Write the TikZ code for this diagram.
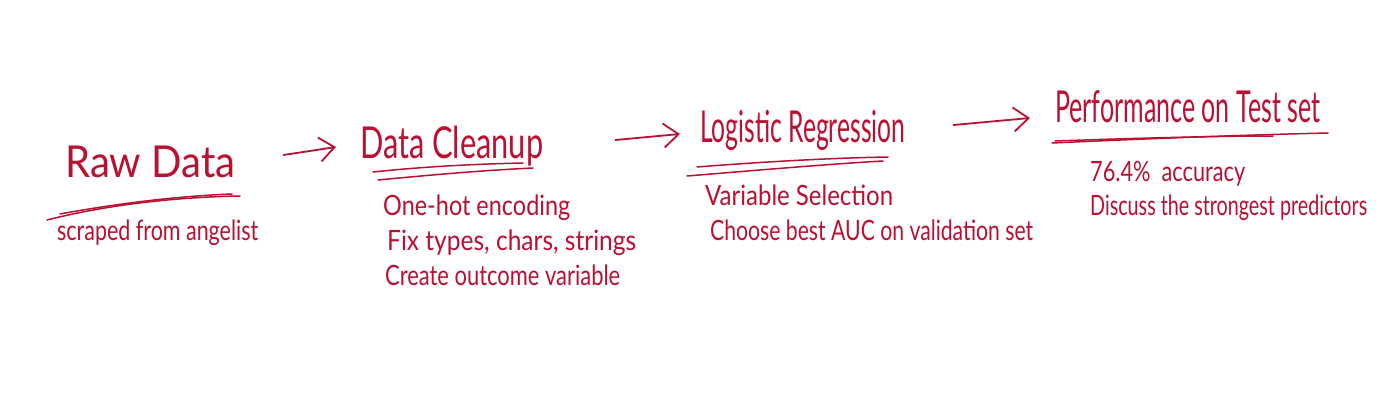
\documentclass[tikz,border=0pt]{standalone}
\usepackage{fontspec}
\setmainfont{Lato}
\usepackage{graphicx}
\usetikzlibrary{arrows.meta}
\definecolor{ink}{RGB}{186,16,50}
\newcommand\hw[2]{\resizebox{#1}{\height}{#2}}
\tikzset{
 title/.style={anchor=base west, inner sep=0pt, text=ink, font=\fontsize{44}{50}\selectfont},
 item/.style={anchor=base west, inner sep=0pt, text=ink, font=\fontsize{28}{32}\selectfont},
 flow/.style={draw=ink, line width=1.8pt, line cap=round, -{Straight Barb[length=15pt,width=24pt]}},
 uline/.style={draw=ink, line width=1.5pt, line cap=round},
}
\begin{document}
\begin{tikzpicture}[x=1pt,y=-1pt]
\useasboundingbox[fill=white] (0,0) rectangle (1400,401);
% titles
\node[title] (raw) at (65,178) {\hw{170pt}{Raw Data}};
\node[title] (clean) at (360,158) {\hw{183pt}{Data Cleanup}};
\node[title] (logit) at (700,143) {\hw{205pt}{Logistic Regression}};
\node[title] (perf) at (1055,123) {\hw{265pt}{Performance on Test set}};
% items
\node[item] (scraped) at (57,240) {\hw{201pt}{scraped from angelist}};
\node[item] (onehot) at (383,215) {\hw{187pt}{One-hot encoding}};
\node[item] (fix) at (387,250) {\hw{249pt}{Fix types, chars, strings}};
\node[item] (create) at (385,285) {\hw{235pt}{Create outcome variable}};
\node[item] (varsel) at (705,205) {\hw{188pt}{Variable Selection}};
\node[item] (choose) at (710,240) {\hw{323pt}{Choose best AUC on validation set}};
\node[item] (acc) at (1090,182) {\hw{155pt}{76.4\%\ \ accuracy}};
\node[item] (disc) at (1090,215) {\hw{277pt}{Discuss the strongest predictors}};
% underlines
\draw[uline] (47,220) .. controls (110,204) and (180,197) .. (240,196);
\draw[uline] (60,214) .. controls (120,203) and (180,196) .. (232,194);
\draw[uline] (373,172) .. controls (430,166) and (480,164) .. (523,163);
\draw[uline] (378,180) .. controls (440,174) and (490,170) .. (533,168);
\draw[uline] (697,167) .. controls (760,162) and (830,158) .. (888,157);
\draw[uline] (687,176) .. controls (760,170) and (830,164) .. (883,161);
\draw[uline] (1052,143) .. controls (1140,139) and (1240,135) .. (1328,133);
\draw[uline] (1055,141) .. controls (1140,138) and (1220,136) .. (1273,136);
% arrows
\draw[flow] ([xshift=48pt,yshift=23pt]raw.base east) -- ([xshift=-24pt,yshift=11pt]clean.base west);
\draw[flow] ([xshift=72pt,yshift=18pt]clean.base east) -- ([xshift=-20pt,yshift=9pt]logit.base west);
\draw[flow] ([xshift=48pt,yshift=18pt]logit.base east) -- ([xshift=-25pt,yshift=5pt]perf.base west);
\end{tikzpicture}
\end{document}
